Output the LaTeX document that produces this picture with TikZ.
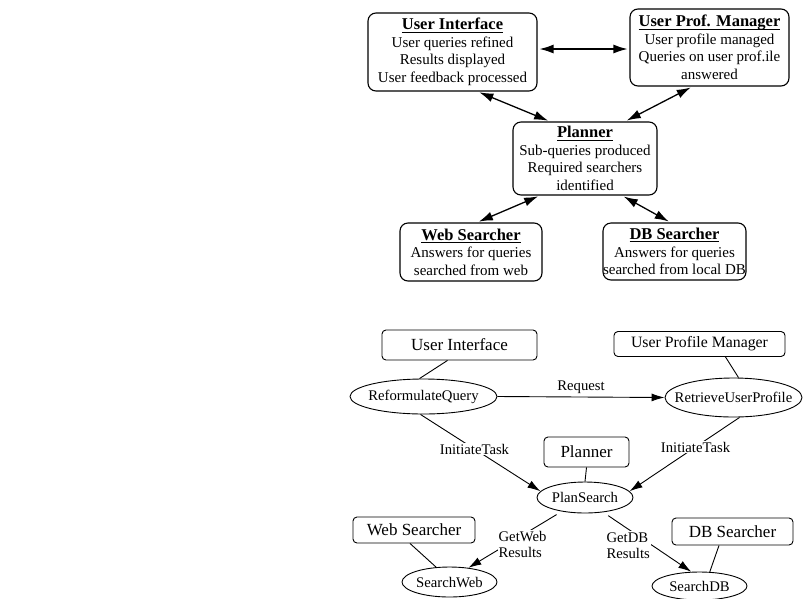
\documentclass[tikz,border=0pt]{standalone}
\usepackage{fontspec}
\setmainfont{Liberation Serif}
\usetikzlibrary{arrows.meta}
\usetikzlibrary{shapes.geometric}

% font sizes
\newcommand{\headfont}{\fontsize{16.5}{17.5}\selectfont\bfseries}
\newcommand{\bodyfont}{\fontsize{15}{17.5}\selectfont}
\newcommand{\rolefont}{\fontsize{17}{20}\selectfont}
\newcommand{\taskfont}{\fontsize{14.7}{16}\selectfont}
% underlined heading, rule at a fixed depth
\newcommand{\headline}[1]{{\headfont\setbox0\hbox{#1}\rlap{\rule[-2.6pt]{\wd0}{0.9pt}}\box0}}

\begin{document}
\begin{tikzpicture}[x=1pt, y=-1pt,
    agent/.style={draw, rounded corners=8pt, line width=1.1pt, align=center, inner sep=0pt, font=\bodyfont},
    role/.style={draw, rounded corners=4pt, line width=0.9pt, inner sep=0pt, font=\rolefont},
    task/.style={draw, ellipse, line width=0.9pt, inner xsep=-12pt, inner ysep=0pt, font=\taskfont},
    link/.style={line width=1.3pt, {Latex[length=14pt,width=9pt]}-{Latex[length=14pt,width=9pt]}, shorten <=2pt, shorten >=2pt},
    flow/.style={line width=0.9pt, -{Latex[length=13pt,width=8pt]}},
    tie/.style={line width=0.9pt},
    cue/.style={fill=white, inner sep=1pt, font=\taskfont, align=left}
  ]
    \useasboundingbox (0,0) rectangle (803,598);

    % upper picture: who does what
    \node[agent, minimum width=169pt, minimum height=78pt] (userIf) at (452.5,52)
      {\headline{User Interface}\\ User queries refined\\ Results displayed\\ User feedback processed};
    \node[agent, minimum width=159pt, minimum height=77pt] (profMgr) at (709.5,47.5)
      {\headline{User Prof. Manager}\\ User profile managed\\ Queries on user prof.ile\\ answered};
    \node[agent, minimum width=144pt, minimum height=73pt] (planner) at (585,158.5)
      {\headline{Planner}\\ Sub-queries produced\\ Required searchers\\ identified};
    \node[agent, minimum width=142pt, minimum height=58pt] (webSearch) at (471,252)
      {\headline{Web Searcher}\\ Answers for queries\\ searched from web};
    \node[agent, minimum width=143pt, minimum height=57pt] (dbSearch) at (674.5,251.5)
      {\headline{DB Searcher}\\ Answers for queries\\ searched from local DB};

    % two-way links between agents
    \draw[link] (userIf.east |- 0,49) -- (profMgr.west |- 0,49);
    \draw[link] ([xshift=25pt]userIf.south) -- ([xshift=-35pt]planner.north);
    \draw[link] ([xshift=-17pt]profMgr.south) -- ([xshift=40pt]planner.north);
    \draw[link] ([xshift=-45pt]planner.south) -- ([xshift=6pt]webSearch.north);
    \draw[link] ([xshift=37pt]planner.south) -- ([xshift=-4pt]dbSearch.north);

    % lower picture: roles
    \node[role, minimum width=155pt, minimum height=30pt] (roleUi) at (459.5,345) {User Interface};
    \node[role, minimum width=171pt, minimum height=25pt, font=\fontsize{15.8}{18}\selectfont] (roleProf) at (699.5,344) {User Profile Manager};
    \node[role, minimum width=85pt, minimum height=30pt] (rolePlan) at (586.5,452) {Planner};
    \node[role, minimum width=122pt, minimum height=26pt] (roleWeb) at (414,530) {Web Searcher};
    \node[role, minimum width=121pt, minimum height=27pt] (roleDb) at (732.5,531.5) {DB Searcher};

    % tasks
    \node[task, minimum width=147pt, minimum height=35pt] (reformulate) at (423.5,396.5) {ReformulateQuery};
    \node[task, minimum width=137pt, minimum height=39pt] (retrieve) at (733.5,397.5) {RetrieveUserProfile};
    \node[task, minimum width=96pt, minimum height=31pt] (planSearch) at (585,497.5) {PlanSearch};
    \node[task, minimum width=95pt, minimum height=30pt] (searchWeb) at (449.5,582) {SearchWeb};
    \node[task, minimum width=95pt, minimum height=28pt] (searchDb) at (699.5,586) {SearchDB};

    % role to task
    \draw[tie] ([xshift=-12pt]roleUi.south) -- ([xshift=-4pt]reformulate.north);
    \draw[tie] ([xshift=26pt]roleProf.south) -- ([xshift=5pt]retrieve.north);
    \draw[tie] (rolePlan.south) -- (planSearch.north);
    \draw[tie] ([xshift=-4pt]roleWeb.south) -- (searchWeb.132);
    \draw[tie] ([xshift=-13.5pt]roleDb.south) -- (searchDb.54);

    % messages
    \draw[flow] (reformulate.east) -- (retrieve.west) node[midway, above=0pt, font=\taskfont] {Request};
    \draw[flow] ([xshift=-3pt]reformulate.south) -- (planSearch.172) node[cue, pos=0.45] {InitiateTask};
    \draw[flow] ([xshift=6pt]retrieve.south) -- (planSearch.8) node[cue, pos=0.4] {InitiateTask};
    \draw[flow, shorten <=6pt] (planSearch.211) -- (searchWeb.37) node[cue, pos=0.42, yshift=-9pt] {GetWeb\\Results};
    \draw[flow, shorten <=6pt] (planSearch.-39) -- (searchDb.120) node[cue, pos=0.42, xshift=-12pt, yshift=-8pt] {GetDB\\Results};
\end{tikzpicture}
\end{document}
